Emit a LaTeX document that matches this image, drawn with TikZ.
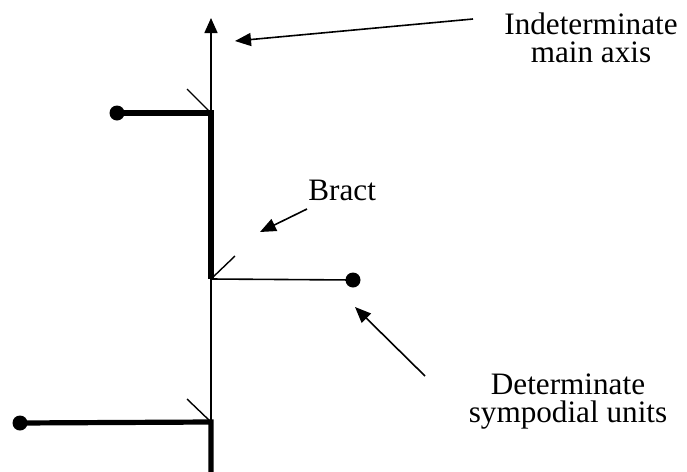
\documentclass[tikz,border=0pt]{standalone}
\usepackage{fontspec}
\setmainfont{Liberation Serif}
\usetikzlibrary{arrows.meta}

\begin{document}
\begin{tikzpicture}[x=0.5pt,y=-0.5pt,
    axisline/.style={line width=0.8pt},
    unitline/.style={line width=2.6pt},
    bractline/.style={line width=0.7pt},
    dot/.style={circle,fill=black,inner sep=0pt,minimum size=7.5pt},
    pointer/.style={line width=0.8pt,-{Triangle[length=8pt,width=6.5pt]}},
    lbl/.style={font=\fontsize{15.6}{14}\selectfont,inner sep=0pt,align=center}]
    \useasboundingbox (0,0) rectangle (687,472);
    %%main_axis
    \coordinate (top) at (211,18);
    \coordinate (j1) at (211,113);
    \coordinate (j2) at (211,279);
    \coordinate (j3) at (211,422);
    \coordinate (bot) at (211,472);
    \draw[axisline,-{Triangle[length=7.5pt,width=6.5pt]}] (j1) to (top);
    \draw[axisline] (j2) to (j3);
    %%sympodial_units
    \node[dot] (d1) at (117,113) {};
    \node[dot] (d2) at (353,280) {};
    \node[dot] (d3) at (20,423) {};
    \draw[unitline] (d1.center) to (j1) to (j2);
    \draw[axisline] (j2) to (d2.center);
    \draw[unitline] (d3.center) to (j3) to (bot);
    %%bracts
    \coordinate (b1) at (187,89);
    \coordinate (b2) at (235,256);
    \coordinate (b3) at (187,399);
    \draw[bractline] (j1) to (b1);
    \draw[bractline] (j2) to (b2);
    \draw[bractline] (j3) to (b3);
    %%labels
    \node[lbl,anchor=north] (ind) at (591,12) {Indeterminate\\main axis};
    \node[lbl,anchor=base west] (bract) at (308,200) {Bract};
    \node[lbl,anchor=north] (det) at (568,373) {Determinate\\sympodial units};
    %%pointers
    \coordinate (indtail) at (473,19);
    \coordinate (indtip) at (235,41);
    \coordinate (brtail) at (307,209);
    \coordinate (brtip) at (260,232);
    \coordinate (dettail) at (425,376);
    \coordinate (dettip) at (355,307);
    \draw[pointer] (indtail) to (indtip);
    \draw[pointer] (brtail) to (brtip);
    \draw[pointer] (dettail) to (dettip);
\end{tikzpicture}
\end{document}
